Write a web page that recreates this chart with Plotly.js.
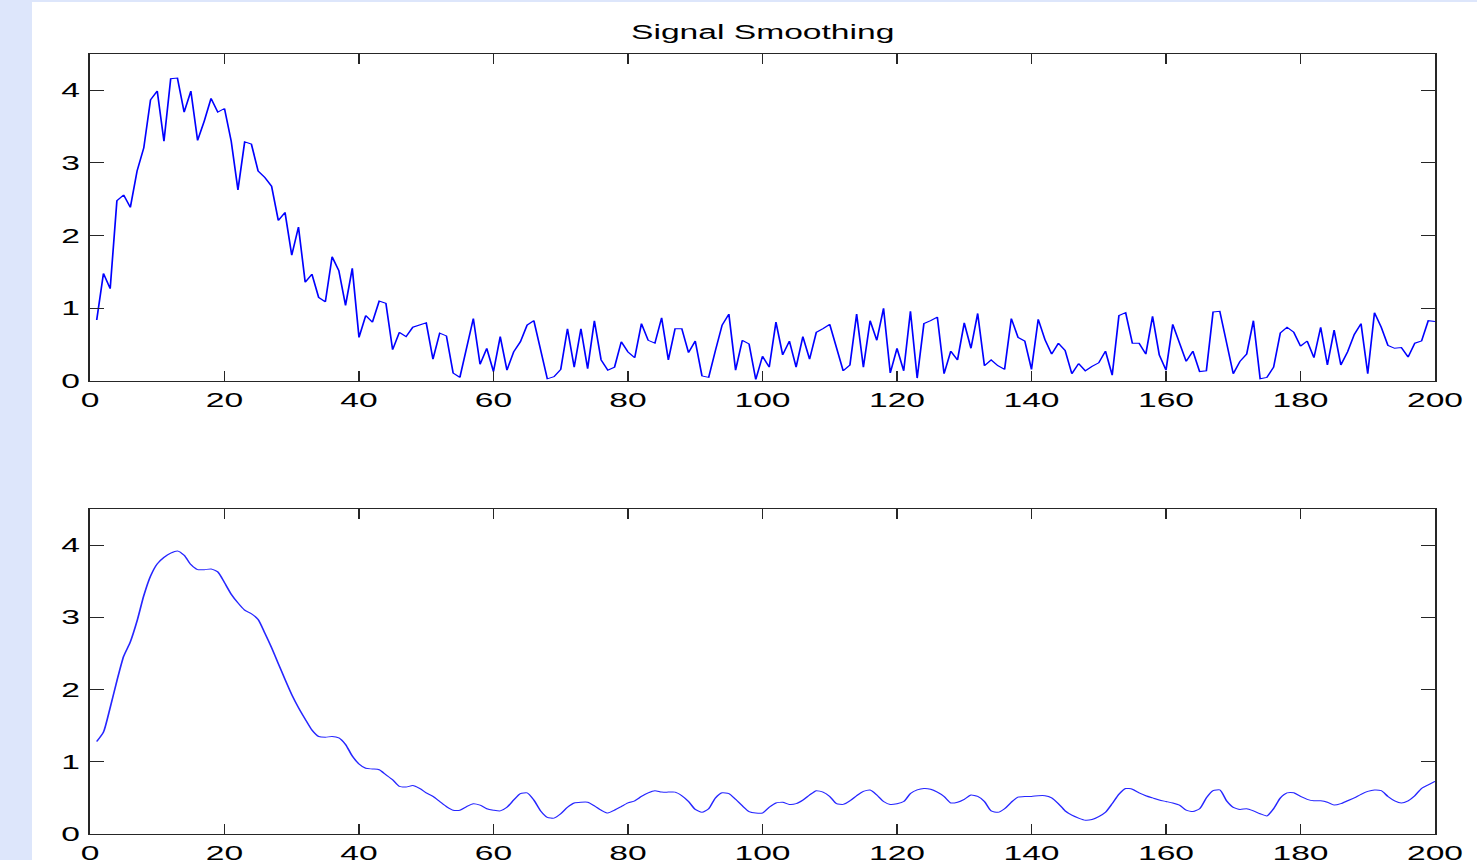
<!DOCTYPE html>
<html><head><meta charset="utf-8">
<script src="https://cdn.plot.ly/plotly-3.0.1.min.js"></script>
<style>
html,body{margin:0;padding:0;background:#dde6fb;width:1477px;height:860px;overflow:hidden;}
#paper{position:absolute;left:32px;top:2px;width:1445px;height:858px;background:#ffffff;}
#chart{position:absolute;left:0;top:0;width:879px;height:860px;transform:scaleX(1.68032);transform-origin:0 0;}
</style></head><body>
<div id="paper"></div><div id="chart"></div>
<script>
// Noisy signal (top panel), samples 1..200
const noisySignal = [
 0.84, 1.48, 1.27, 2.48, 2.56, 2.39, 2.89, 3.21, 3.87, 3.99,
 3.30, 4.16, 4.17, 3.70, 3.99, 3.31, 3.58, 3.89, 3.70, 3.75,
 3.30, 2.63, 3.29, 3.26, 2.89, 2.80, 2.68, 2.21, 2.32, 1.73,
 2.12, 1.36, 1.47, 1.15, 1.09, 1.71, 1.52, 1.04, 1.55, 0.60,
 0.90, 0.81, 1.10, 1.07, 0.43, 0.67, 0.61, 0.74, 0.77, 0.80,
 0.30, 0.66, 0.62, 0.11, 0.05, 0.45, 0.86, 0.23, 0.45, 0.13,
 0.61, 0.15, 0.40, 0.54, 0.77, 0.83, 0.43, 0.03, 0.06, 0.16,
 0.72, 0.19, 0.72, 0.17, 0.83, 0.29, 0.15, 0.19, 0.54, 0.40,
 0.32, 0.79, 0.56, 0.52, 0.87, 0.29, 0.72, 0.72, 0.39, 0.55,
 0.07, 0.05, 0.42, 0.77, 0.92, 0.15, 0.56, 0.51, 0.02, 0.34,
 0.19, 0.81, 0.36, 0.55, 0.19, 0.61, 0.30, 0.67, 0.72, 0.78,
 0.46, 0.14, 0.22, 0.92, 0.19, 0.83, 0.56, 1.00, 0.11, 0.45,
 0.14, 0.96, 0.04, 0.79, 0.83, 0.88, 0.10, 0.41, 0.29, 0.80,
 0.45, 0.93, 0.21, 0.29, 0.21, 0.16, 0.86, 0.60, 0.55, 0.16,
 0.85, 0.57, 0.37, 0.52, 0.42, 0.10, 0.24, 0.14, 0.20, 0.25,
 0.41, 0.08, 0.90, 0.94, 0.52, 0.52, 0.37, 0.89, 0.36, 0.15,
 0.78, 0.52, 0.27, 0.41, 0.13, 0.14, 0.95, 0.96, 0.53, 0.10,
 0.27, 0.37, 0.83, 0.03, 0.05, 0.19, 0.66, 0.74, 0.67, 0.48,
 0.55, 0.32, 0.74, 0.22, 0.70, 0.22, 0.40, 0.64, 0.79, 0.10,
 0.94, 0.74, 0.49, 0.45, 0.46, 0.33, 0.52, 0.55, 0.83, 0.82
];
// Smoothed signal (bottom panel), samples 1..200
const smoothedSignal = [
 1.28, 1.41, 1.75, 2.12, 2.46, 2.66, 2.95, 3.30, 3.57, 3.74,
 3.83, 3.89, 3.92, 3.86, 3.73, 3.66, 3.66, 3.67, 3.63, 3.48,
 3.32, 3.20, 3.10, 3.05, 2.97, 2.78, 2.58, 2.36, 2.14, 1.93,
 1.75, 1.59, 1.44, 1.35, 1.34, 1.35, 1.33, 1.24, 1.08, 0.97,
 0.91, 0.90, 0.89, 0.82, 0.75, 0.66, 0.65, 0.67, 0.63, 0.57,
 0.52, 0.45, 0.38, 0.33, 0.33, 0.38, 0.42, 0.40, 0.35, 0.33,
 0.32, 0.37, 0.47, 0.56, 0.57, 0.47, 0.32, 0.23, 0.22, 0.28,
 0.37, 0.43, 0.44, 0.44, 0.39, 0.33, 0.29, 0.33, 0.38, 0.43,
 0.46, 0.52, 0.57, 0.60, 0.58, 0.58, 0.58, 0.53, 0.45, 0.34,
 0.30, 0.35, 0.50, 0.57, 0.56, 0.48, 0.39, 0.31, 0.29, 0.29,
 0.37, 0.43, 0.44, 0.41, 0.42, 0.47, 0.54, 0.60, 0.58, 0.52,
 0.42, 0.41, 0.46, 0.53, 0.59, 0.61, 0.54, 0.45, 0.41, 0.42,
 0.45, 0.56, 0.61, 0.63, 0.62, 0.58, 0.52, 0.43, 0.44, 0.48,
 0.54, 0.52, 0.45, 0.32, 0.30, 0.35, 0.44, 0.51, 0.52, 0.52,
 0.53, 0.53, 0.50, 0.42, 0.32, 0.26, 0.22, 0.19, 0.20, 0.24,
 0.30, 0.42, 0.55, 0.63, 0.62, 0.57, 0.53, 0.50, 0.47, 0.45,
 0.43, 0.40, 0.33, 0.31, 0.35, 0.50, 0.60, 0.61, 0.46, 0.37,
 0.34, 0.35, 0.32, 0.28, 0.25, 0.35, 0.50, 0.57, 0.57, 0.52,
 0.48, 0.46, 0.46, 0.44, 0.40, 0.42, 0.46, 0.50, 0.55, 0.59,
 0.61, 0.60, 0.52, 0.46, 0.43, 0.46, 0.53, 0.63, 0.68, 0.73
];
const sampleIndex = noisySignal.map((_, i) => i + 1);
const xTickValues = [0, 20, 40, 60, 80, 100, 120, 140, 160, 180, 200];
const yTickValues = [0, 1, 2, 3, 4];
const chartTitle = "Signal Smoothing";

const FONT = "Liberation Sans, Arial, Helvetica, sans-serif";
const axisColor = "#262626";

function xAxis(anchor) {
  return {
    anchor: anchor, domain: [0.06093, 0.97156], range: [0, 200],
    tickmode: "array", tickvals: xTickValues, ticktext: xTickValues.map(String),
    ticks: "inside", ticklen: 10, tickwidth: 1, tickcolor: axisColor,
    showline: true, mirror: "ticks", linecolor: axisColor, linewidth: 1,
    showgrid: false, zeroline: false, ticklabelstandoff: 1,
    tickfont: {family: FONT, size: 20, color: "#000"}
  };
}
function yAxis(anchor, domain) {
  return {
    anchor: anchor, domain: domain, range: [0, 4.5],
    tickmode: "array", tickvals: yTickValues, ticktext: yTickValues.map(String),
    ticks: "inside", ticklen: 8.3, tickwidth: 1, tickcolor: axisColor,
    showline: true, mirror: "ticks", linecolor: axisColor, linewidth: 1,
    showgrid: false, zeroline: false, ticklabelstandoff: 1,
    tickfont: {family: FONT, size: 20, color: "#000"}
  };
}

const traces = [
  {x: sampleIndex, y: noisySignal, type: "scatter", mode: "lines",
   line: {color: "#0000ff", width: 1.0}, xaxis: "x", yaxis: "y", hoverinfo: "skip"},
  {x: sampleIndex, y: smoothedSignal, type: "scatter", mode: "lines",
   line: {color: "#2626ff", width: 1.0, shape: "spline", smoothing: 0.6}, xaxis: "x2", yaxis: "y2", hoverinfo: "skip"}
];

const layout = {
  width: 879, height: 860,
  margin: {l: 0, r: 0, t: 0, b: 0},
  paper_bgcolor: "rgba(0,0,0,0)", plot_bgcolor: "#ffffff",
  showlegend: false,
  title: {text: chartTitle, font: {family: FONT, size: 20, color: "#000"},
          x: 0.5164, xref: "paper", xanchor: "center", y: 0.963, yref: "container", yanchor: "middle"},
  xaxis: xAxis("y"),
  yaxis: yAxis("x", [0.55698, 0.93721]),
  xaxis2: xAxis("y2"),
  yaxis2: yAxis("x2", [0.030233, 0.40814])
};

Plotly.newPlot("chart", traces, layout, {staticPlot: true, displayModeBar: false});
</script></body></html>
